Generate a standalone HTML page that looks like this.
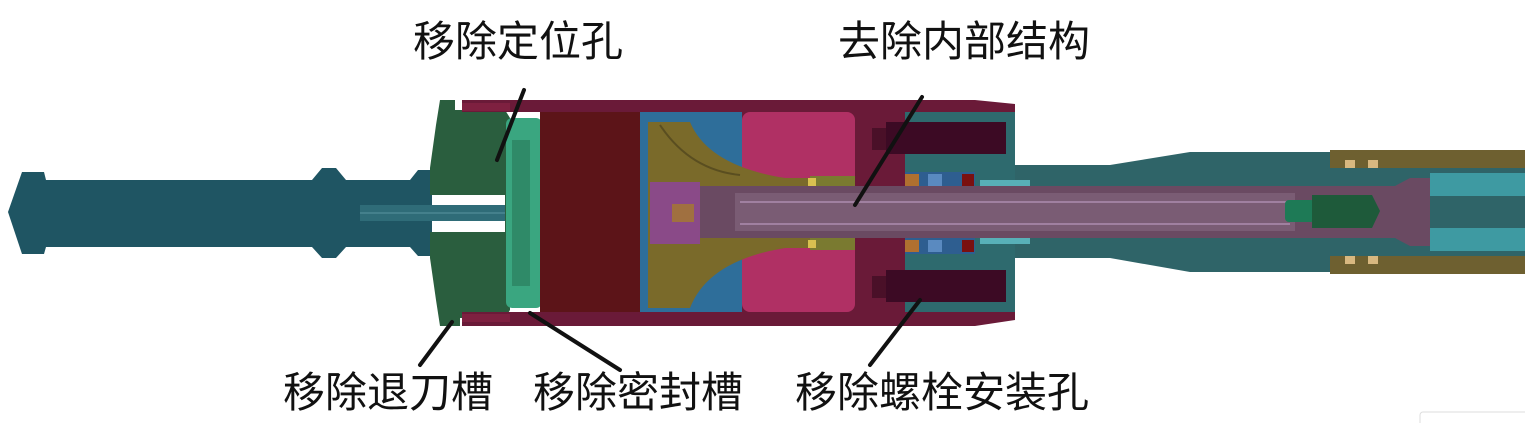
<!DOCTYPE html>
<html><head><meta charset="utf-8"><style>
html,body{margin:0;padding:0;background:#fff;width:1525px;height:423px;overflow:hidden}
svg{display:block}
text{font-family:"Liberation Sans","Noto Sans CJK SC",sans-serif;font-size:42px;fill:#111}
</style></head><body>
<svg width="1525" height="423" viewBox="0 0 1525 423" xmlns="http://www.w3.org/2000/svg">
<!-- left shaft -->
<path d="M8,212 L22,172 L44,172 L46,180 L312,180 L322,168 L336,168 L346,180 L410,180 L418,170 L432,170 L432,256 L418,256 L410,247 L346,247 L336,258 L322,258 L312,247 L46,247 L44,254 L22,254 Z" fill="#1f5563"/>
<rect x="360" y="205" width="150" height="16" fill="#2f6c78"/>
<line x1="360" y1="213" x2="505" y2="213" stroke="#5a95a0" stroke-width="1"/>
<!-- green cap -->
<path d="M440,100 L455,100 L455,110 L505,110 L510,118 L510,310 L505,318 L460,318 L460,326 L440,326 L436,300 L430,258 L430,232 L505,232 L505,195 L430,195 L430,168 L436,125 Z" fill="#2a5e3e"/>
<!-- outer housing -->
<path d="M462,100 L975,100 L1015,104 L1015,320 L975,326 L462,326 L462,312 L540,312 L540,112 L462,112 Z" fill="#6a1a38"/>
<rect x="462" y="103" width="48" height="8" fill="#7e2040"/>
<rect x="462" y="314" width="48" height="8" fill="#7e2040"/>
<!-- light green ring -->
<rect x="506" y="118" width="36" height="190" rx="6" fill="#3aa680"/>
<rect x="512" y="140" width="18" height="146" fill="#2f8a68"/>
<!-- red block -->
<rect x="540" y="112" width="100" height="200" fill="#5c1418"/>
<!-- blue region -->
<rect x="640" y="112" width="102" height="200" fill="#2e6e9a"/>
<!-- pink region -->
<rect x="742" y="112" width="113" height="200" rx="8" fill="#b03064"/>
<!-- olive piston -->
<path d="M648,122 L690,122 Q710,170 800,180 L810,180 L810,246 L800,246 Q710,256 690,308 L648,308 Z" fill="#7a6a2a"/>
<path d="M660,125 Q690,170 740,175" stroke="#5a4e20" stroke-width="2" fill="none"/>
<rect x="650" y="178" width="255" height="70" fill="#7a6a2a"/>
<rect x="810" y="176" width="95" height="74" fill="#7a7a30"/>
<rect x="808" y="178" width="8" height="8" fill="#d8c050"/>
<rect x="808" y="240" width="8" height="8" fill="#d8c050"/>
<!-- maroon right body -->
<rect x="855" y="104" width="52" height="216" fill="#6a1a38"/>
<!-- teal flange -->
<rect x="905" y="112" width="110" height="200" fill="#2e6a6e"/>
<!-- bolts -->
<rect x="872" y="128" width="16" height="22" fill="#4a1028"/>
<rect x="886" y="122" width="120" height="32" fill="#3c0a24"/>
<rect x="872" y="276" width="16" height="22" fill="#4a1028"/>
<rect x="886" y="270" width="120" height="32" fill="#3c0a24"/>
<!-- seals -->
<rect x="905" y="172" width="70" height="16" fill="#2e5e90"/>
<rect x="905" y="238" width="70" height="16" fill="#2e5e90"/>
<rect x="905" y="174" width="14" height="12" fill="#b07030"/>
<rect x="905" y="240" width="14" height="12" fill="#b07030"/>
<rect x="928" y="174" width="14" height="12" fill="#5a8ac0"/>
<rect x="928" y="240" width="14" height="12" fill="#5a8ac0"/>
<rect x="962" y="174" width="12" height="12" fill="#7a1010"/>
<rect x="962" y="240" width="12" height="12" fill="#7a1010"/>
<!-- right tube -->
<path d="M1015,165 L1110,165 L1190,152 L1525,152 L1525,272 L1190,272 L1110,258 L1015,258 Z" fill="#2f6468"/>
<rect x="980" y="180" width="50" height="8" fill="#58b0b8"/>
<rect x="980" y="236" width="50" height="8" fill="#58b0b8"/>
<rect x="1330" y="150" width="195" height="18" fill="#6e6030"/>
<rect x="1330" y="256" width="195" height="18" fill="#6e6030"/>
<rect x="1345" y="160" width="10" height="8" fill="#d8b880"/>
<rect x="1368" y="160" width="10" height="8" fill="#d8b880"/>
<rect x="1345" y="256" width="10" height="8" fill="#d8b880"/>
<rect x="1368" y="256" width="10" height="8" fill="#d8b880"/>
<rect x="1430" y="173" width="95" height="23" fill="#3e9aa2"/>
<rect x="1430" y="228" width="95" height="23" fill="#3e9aa2"/>
<!-- central rod -->
<path d="M650,186 L1395,186 L1410,178 L1430,178 L1430,246 L1410,246 L1395,238 L650,238 Z" fill="#6a4a62"/>
<rect x="650" y="182" width="50" height="62" fill="#8a4a88"/>
<rect x="672" y="204" width="22" height="18" fill="#a07040"/>
<rect x="735" y="193" width="560" height="38" fill="#7a5c74"/>
<line x1="740" y1="202" x2="1290" y2="202" stroke="#a080a0" stroke-width="2"/>
<line x1="740" y1="224" x2="1290" y2="224" stroke="#a080a0" stroke-width="2"/>
<!-- green plug -->
<rect x="1285" y="200" width="30" height="22" rx="4" fill="#1e7a56"/>
<path d="M1312,195 L1372,195 L1380,211 L1372,228 L1312,228 Z" fill="#1e5a3a"/>
<!-- leader lines -->
<g stroke="#111" stroke-width="4" stroke-linecap="round">
<line x1="524" y1="90" x2="497" y2="160"/>
<line x1="922" y1="97" x2="855" y2="205"/>
<line x1="452" y1="322" x2="420" y2="365"/>
<line x1="530" y1="313" x2="620" y2="370"/>
<line x1="920" y1="300" x2="870" y2="365"/>
</g>
<!-- labels -->
<text x="413" y="56">移除定位孔</text>
<text x="838" y="56">去除内部结构</text>
<text x="283" y="407">移除退刀槽</text>
<text x="533" y="407">移除密封槽</text>
<text x="795" y="407">移除螺栓安装孔</text>
<rect x="1420" y="412" width="110" height="15" rx="3" fill="none" stroke="#ddd"/>
</svg>
</body></html>
